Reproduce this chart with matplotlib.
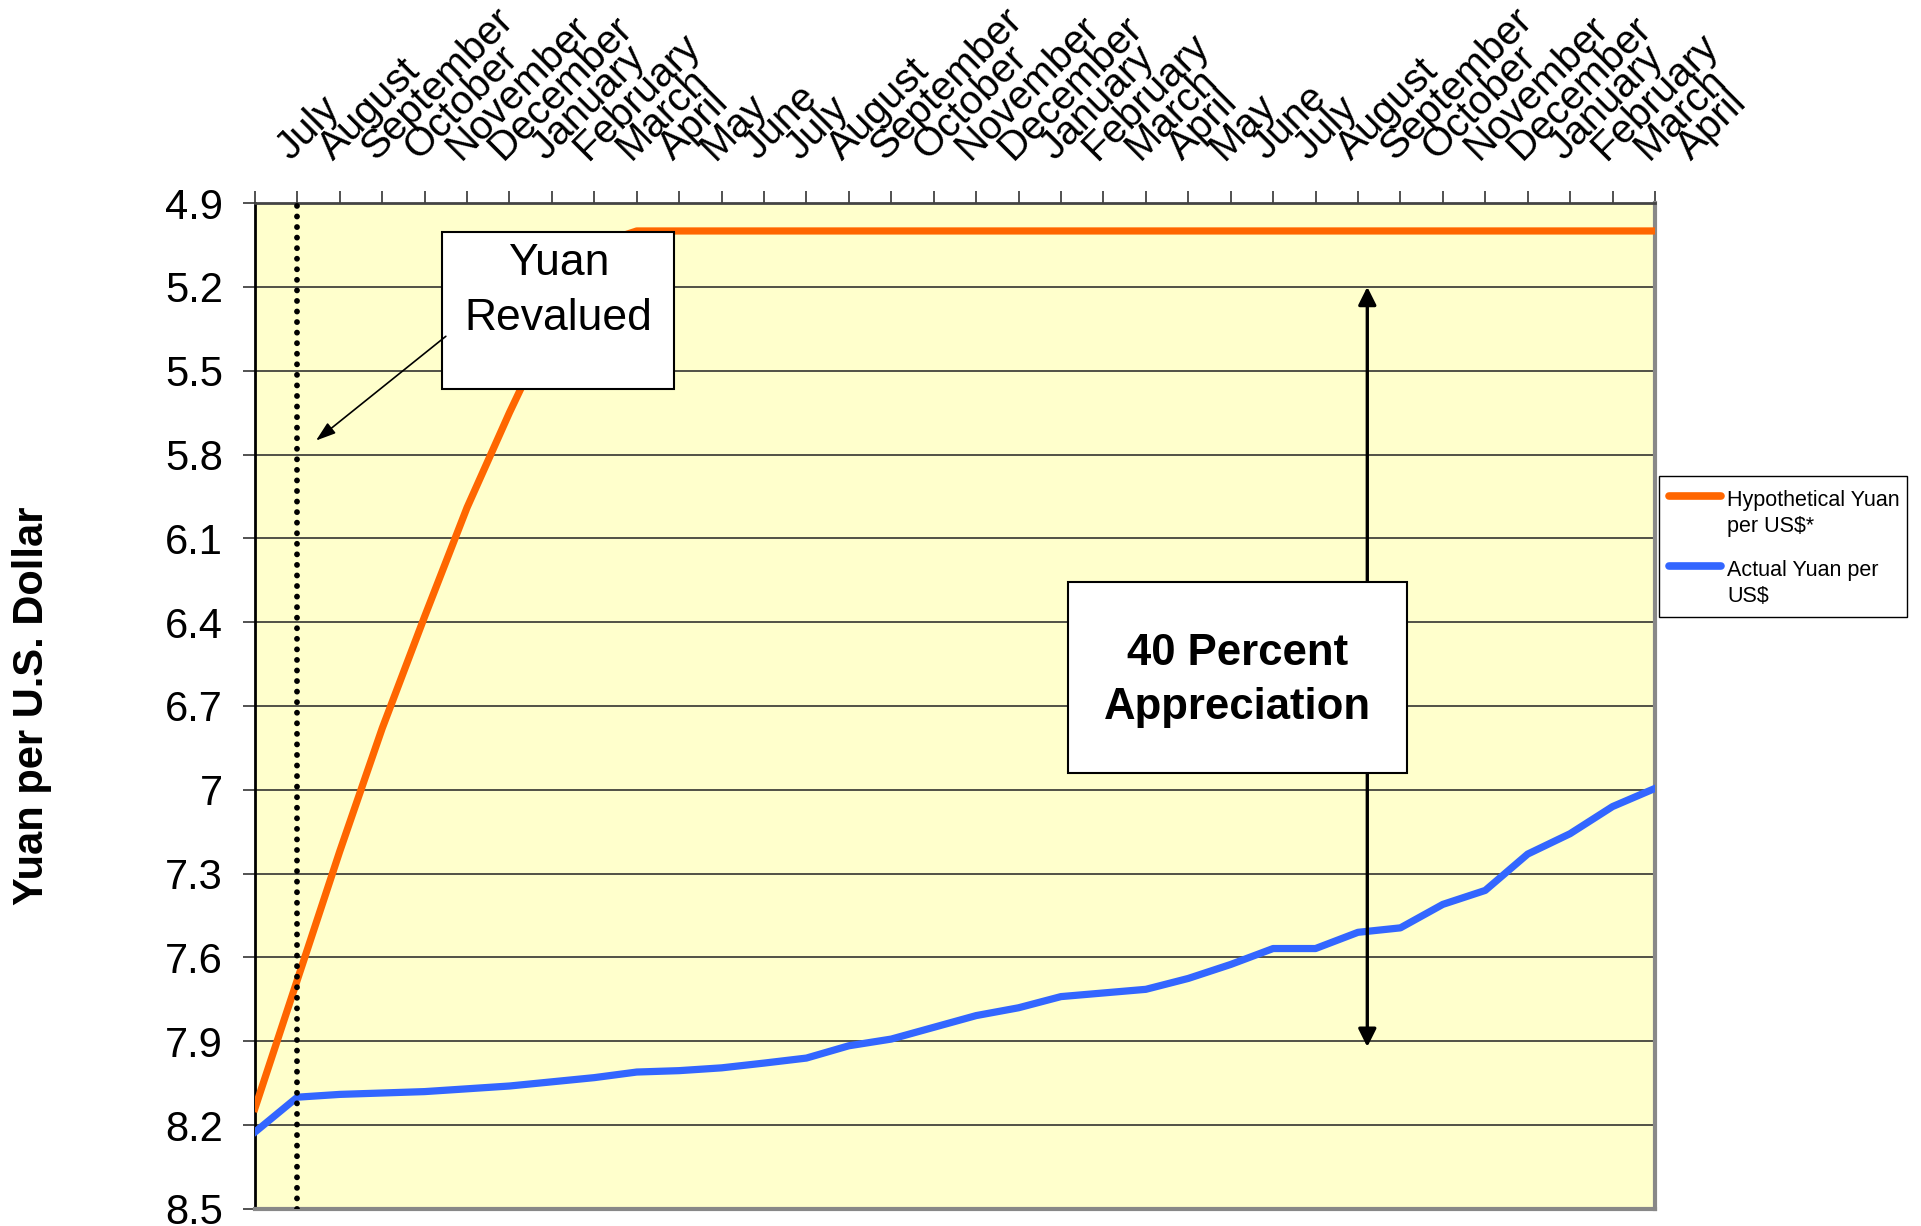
import matplotlib
matplotlib.use("Agg")
import matplotlib.pyplot as plt
import matplotlib.transforms as mtransforms
from matplotlib.patches import Rectangle
from matplotlib.lines import Line2D
import numpy as np

plt.rcParams['font.family'] = ['Liberation Sans', 'DejaVu Sans']

# month labels, July of year 1 to April of year 3
months = ["July", "August", "September", "October", "November", "December",
          "January", "February", "March", "April", "May", "June",
          "July", "August", "September", "October", "November", "December",
          "January", "February", "March", "April", "May", "June",
          "July", "August", "September", "October", "November", "December",
          "January", "February", "March", "April"]

# yuan per US dollar
hypothetical = [8.14, 7.68, 7.22, 6.78, 6.38, 5.99, 5.65, 5.33, 5.05, 5.0,
                5.0, 5.0, 5.0, 5.0, 5.0, 5.0, 5.0, 5.0, 5.0, 5.0,
                5.0, 5.0, 5.0, 5.0, 5.0, 5.0, 5.0, 5.0, 5.0, 5.0,
                5.0, 5.0, 5.0, 5.0]
actual = [8.225, 8.10, 8.09, 8.085, 8.08, 8.07, 8.06, 8.045, 8.03, 8.01,
          8.005, 7.995, 7.978, 7.96, 7.916, 7.892, 7.85, 7.808, 7.78, 7.74,
          7.727, 7.714, 7.675, 7.625, 7.568, 7.568, 7.51, 7.494, 7.41, 7.36,
          7.23, 7.157, 7.06, 6.995]

y_ticks = [4.9, 5.2, 5.5, 5.8, 6.1, 6.4, 6.7, 7.0, 7.3, 7.6, 7.9, 8.2, 8.5]

orange = '#FF6600'
blue = '#3366FF'

fig = plt.figure(figsize=(19.21, 12.26), dpi=100)
ax = fig.add_axes([0.1327, 0.0139, 0.7288, 0.8205])
ax.set_facecolor('#FFFFCC')

x = np.arange(len(months))
ax.plot(x, hypothetical, color=orange, lw=5.2, zorder=3)
ax.plot(x, actual, color=blue, lw=5.2, zorder=3)

ax.set_xlim(0, len(months) - 1)
ax.set_ylim(8.5, 4.9)

ax.set_yticks(y_ticks)
ax.set_yticklabels([f"{v:g}" for v in y_ticks])
ax.yaxis.grid(True, color='#222222', lw=1.1)
ax.set_axisbelow(True)

ax.set_xticks(x)
ax.set_xticklabels(months)
ax.tick_params(axis='x', top=True, bottom=False, labeltop=True, labelbottom=False,
               direction='out', length=9, width=1.2, color='#333333', pad=21,
               labelsize=29)
ax.tick_params(axis='y', direction='out', length=9, width=1.2, color='#333333',
               pad=14, labelsize=30)
# month labels slanted, shifted right like the original
shift = mtransforms.ScaledTranslation(26 / 72, 0, fig.dpi_scale_trans)
for lbl in ax.get_xticklabels():
    lbl.set_rotation(45)
    lbl.set_rotation_mode('anchor')
    lbl.set_ha('left')
    lbl.set_va('baseline')
    lbl.set_transform(lbl.get_transform() + shift)

ax.spines['top'].set_color('#444444')
ax.spines['top'].set_linewidth(2)
ax.spines['left'].set_color('black')
ax.spines['left'].set_linewidth(2)
for s in ['right', 'bottom']:
    ax.spines[s].set_color('#888888')
    ax.spines[s].set_linewidth(3)

ax.set_ylabel("Yuan per U.S. Dollar", fontsize=30, fontweight='bold')
ax.yaxis.set_label_coords(-0.145, 0.5)

# revaluation marker
ax.axvline(1, color='black', lw=4.2, linestyle=(0, (0.01, 1.8)),
           dash_capstyle='round', zorder=5)

# "Yuan Revalued" callout
ax.add_patch(Rectangle((4.42, 5.005), 5.47, 0.56, facecolor='white',
                       edgecolor='black', lw=1.5, zorder=6))
ax.text(7.16, 5.157, "Yuan", ha='center', va='baseline', fontsize=32, zorder=7)
ax.text(7.16, 5.3535, "Revalued", ha='center', va='baseline', fontsize=32, zorder=7)
ax.annotate("", xy=(1.44, 5.75), xytext=(4.50, 5.377),
            arrowprops=dict(arrowstyle='-|>,head_length=0.6,head_width=0.2',
                            color='black', lw=1.2, mutation_scale=20,
                            shrinkA=0, shrinkB=0), zorder=6)

# appreciation arrow and box
ax.annotate("", xy=(26.22, 5.2), xytext=(26.22, 7.92),
            arrowprops=dict(arrowstyle='<|-|>,head_length=0.6,head_width=0.3',
                            color='black', lw=2.4, mutation_scale=18,
                            shrinkA=0, shrinkB=0), zorder=4)
ax.add_patch(Rectangle((19.16, 6.258), 7.99, 0.683, facecolor='white',
                       edgecolor='black', lw=1.5, zorder=6))
ax.text(23.16, 6.552, "40 Percent", ha='center', va='baseline', fontsize=31.5,
        fontweight='bold', zorder=7)
ax.text(23.16, 6.748, "Appreciation", ha='center', va='baseline', fontsize=31.5,
        fontweight='bold', zorder=7)

# legend box drawn by hand (handles sit on the first text line)
fig.add_artist(Rectangle((0.8636, 0.4965), 0.1289, 0.1153, transform=fig.transFigure,
                         facecolor='white', edgecolor='black', lw=1))
fig.add_artist(Line2D([0.8688, 0.8959], [0.5954, 0.5954], transform=fig.transFigure,
                      color=orange, lw=5.5, solid_capstyle='round'))
fig.add_artist(Line2D([0.8688, 0.8959], [0.5383, 0.5383], transform=fig.transFigure,
                      color=blue, lw=5.5, solid_capstyle='round'))
fig.text(0.899, 0.5869, "Hypothetical Yuan", fontsize=15.5, va='baseline')
fig.text(0.899, 0.5657, "per US$*", fontsize=15.5, va='baseline')
fig.text(0.899, 0.5298, "Actual Yuan per", fontsize=15.5, va='baseline')
fig.text(0.899, 0.5086, "US$", fontsize=15.5, va='baseline')

fig.savefig("out.png", dpi=100, facecolor='white')
